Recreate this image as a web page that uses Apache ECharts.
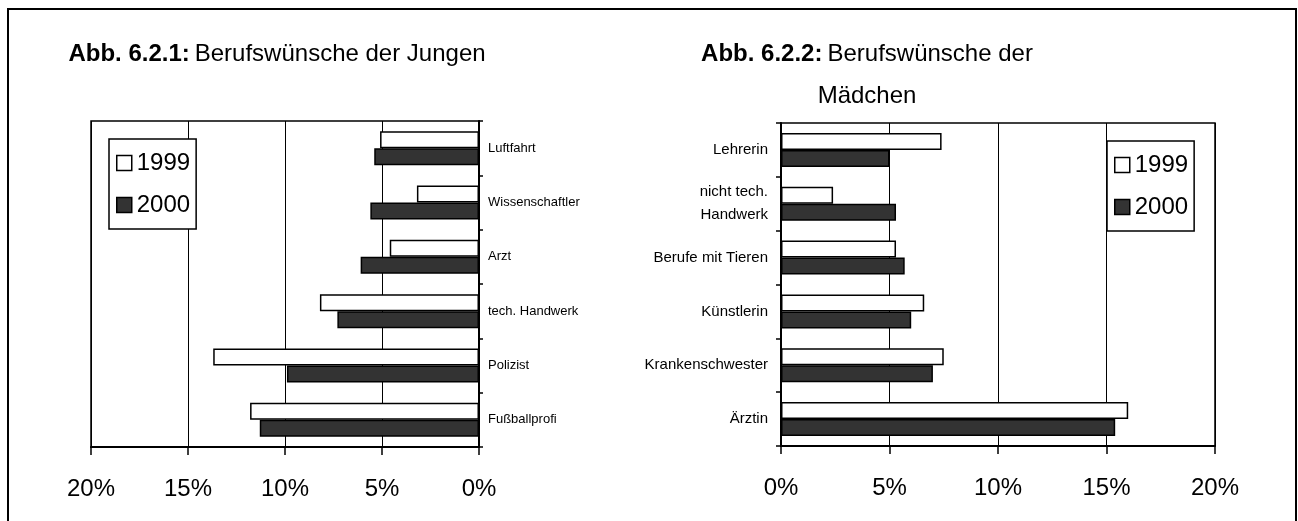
<!DOCTYPE html>
<html>
<head>
<meta charset="utf-8">
<script src="https://cdn.jsdelivr.net/npm/echarts@6/dist/echarts.min.js"></script>
<style>
  html, body { margin: 0; padding: 0; background: #fff; }
  #chart { width: 1298px; height: 521px; }
</style>
</head>
<body>
<div id="chart"></div>
<script>
// Jungen (top to bottom)
const boysJobs = ["Luftfahrt", "Wissenschaftler", "Arzt", "tech. Handwerk", "Polizist", "Fußballprofi"];
const boys1999 = [5.1, 3.2, 4.6, 8.2, 13.7, 11.8];
const boys2000 = [5.4, 5.6, 6.1, 7.3, 9.9, 11.3];

// Mädchen (top to bottom)
const girlsJobs = ["Lehrerin", "nicht tech.\nHandwerk", "Berufe mit Tieren", "Künstlerin", "Krankenschwester", "Ärztin"];
const girls1999 = [7.4, 2.4, 5.3, 6.6, 7.5, 16.0];
const girls2000 = [5.0, 5.3, 5.7, 6.0, 7.0, 15.4];

const yearNames = ["1999", "2000"];
const pctTicks = { min: 0, max: 20, interval: 5 };

const FONT = "'Liberation Sans', Arial, sans-serif";
const chart = echarts.init(document.getElementById("chart"));

const barStyle = (fill) => ({
  color: fill,
  borderColor: "#000",
  borderWidth: 1.5
});

const xAxisBase = {
  type: "value",
  min: pctTicks.min,
  max: pctTicks.max,
  interval: pctTicks.interval,
  axisLine: { show: true, lineStyle: { color: "#000", width: 2 } },
  axisTick: { show: true, length: 8, lineStyle: { color: "#000", width: 1.5 } },
  splitLine: { show: true, lineStyle: { color: "#000", width: 1 } },
  axisLabel: {
    formatter: "{value}%",
    color: "#000",
    fontFamily: FONT,
    fontSize: 24,
    margin: 30
  }
};

const legendBase = {
  orient: "vertical",
  data: yearNames,
  backgroundColor: "#fff",
  borderColor: "#000",
  borderWidth: 1.5,
  borderRadius: 0,
  padding: [12, 6, 12, 7],
  itemWidth: 15,
  itemHeight: 15,
  itemGap: 18,
  icon: "rect",
  itemStyle: { borderColor: "#000", borderWidth: 1.5 },
  textStyle: { color: "#000", fontFamily: FONT, fontSize: 24 }
};

const titleRich = {
  b: { fontFamily: FONT, fontSize: 24, fontWeight: "bold", color: "#000", lineHeight: 42 },
  n: { fontFamily: FONT, fontSize: 24, fontWeight: "normal", color: "#000", lineHeight: 42 }
};

const option = {
  animation: false,
  backgroundColor: "#fff",
  title: [
    {
      text: "{b|Abb. 6.2.1:} {n|Berufswünsche der Jungen}",
      left: 272,
      top: 28,
      textAlign: "center",
      textStyle: { fontWeight: "normal", rich: titleRich }
    },
    {
      text: "{b|Abb. 6.2.2:} {n|Berufswünsche der}\n{n|Mädchen}",
      left: 862,
      top: 28,
      textAlign: "center",
      textStyle: { fontWeight: "normal", rich: titleRich }
    }
  ],
  legend: [
    Object.assign({}, legendBase, { left: 109, top: 139 }),
    Object.assign({}, legendBase, { left: 1107, top: 141 })
  ],
  grid: [
    { left: 91, top: 121, width: 388, height: 326, show: true, borderColor: "#000", borderWidth: 1.5, backgroundColor: "#fff" },
    { left: 781, top: 123, width: 434, height: 323, show: true, borderColor: "#000", borderWidth: 1.5, backgroundColor: "#fff" }
  ],
  xAxis: [
    Object.assign({}, xAxisBase, { gridIndex: 0, inverse: true }),
    Object.assign({}, xAxisBase, { gridIndex: 1 })
  ],
  yAxis: [
    {
      gridIndex: 0,
      type: "category",
      data: boysJobs,
      inverse: true,
      position: "right",
      axisLine: { show: true, lineStyle: { color: "#000", width: 2 } },
      axisTick: { show: true, length: 4, lineStyle: { color: "#000", width: 1.5 } },
      splitLine: { show: false },
      axisLabel: { color: "#000", fontFamily: FONT, fontSize: 13, margin: 9 }
    },
    {
      gridIndex: 1,
      type: "category",
      data: girlsJobs,
      inverse: true,
      position: "left",
      axisLine: { show: true, lineStyle: { color: "#000", width: 2 } },
      axisTick: { show: true, length: 5, lineStyle: { color: "#000", width: 1.5 } },
      splitLine: { show: false },
      axisLabel: { color: "#000", fontFamily: FONT, fontSize: 15, margin: 13, lineHeight: 23 }
    }
  ],
  series: [
    { name: yearNames[0], type: "bar", xAxisIndex: 0, yAxisIndex: 0, barWidth: 17, barGap: "0%", itemStyle: barStyle("#fff"), data: boys1999 },
    { name: yearNames[1], type: "bar", xAxisIndex: 0, yAxisIndex: 0, barWidth: 17, barGap: "0%", itemStyle: barStyle("#333333"), data: boys2000 },
    { name: yearNames[0], type: "bar", xAxisIndex: 1, yAxisIndex: 1, barWidth: 17, barGap: "0%", itemStyle: barStyle("#fff"), data: girls1999 },
    { name: yearNames[1], type: "bar", xAxisIndex: 1, yAxisIndex: 1, barWidth: 17, barGap: "0%", itemStyle: barStyle("#333333"), data: girls2000 }
  ],
  graphic: [
    {
      type: "rect",
      silent: true,
      z: 100,
      shape: { x: 8, y: 9, width: 1288, height: 530 },
      style: { fill: "none", stroke: "#000", lineWidth: 2 }
    }
  ]
};

chart.setOption(option);
window.addEventListener("resize", () => chart.resize());
</script>
</body>
</html>
